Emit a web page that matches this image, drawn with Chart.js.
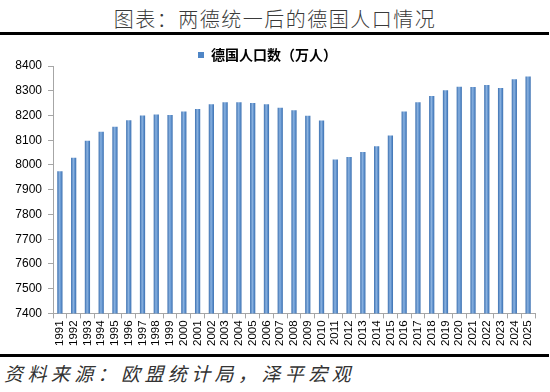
<!DOCTYPE html>
<html>
<head>
<meta charset="utf-8">
<script src="https://cdn.jsdelivr.net/npm/chart.js@4"></script>
<style>
html,body{margin:0;padding:0;background:#fff;width:550px;height:392px;overflow:hidden;}
#title{position:absolute;left:0;top:6px;width:550px;text-align:center;font-family:"Noto Sans CJK SC";font-weight:300;font-size:20px;letter-spacing:1.5px;color:#3a3a3a;line-height:26px;}
#topline{position:absolute;left:0;top:32px;width:549px;height:3px;background:#000;}
#wrap{position:absolute;left:0;top:36px;width:550px;height:318px;}
#botline{position:absolute;left:0;top:354px;width:549px;height:3px;background:#000;}
#source{position:absolute;left:4px;top:360px;font-family:"Noto Sans CJK SC";font-size:19px;font-style:italic;letter-spacing:4.4px;color:#333;line-height:26px;}
</style>
</head>
<body>
<div id="title">图表：两德统一后的德国人口情况</div>
<div id="topline"></div>
<div id="wrap"><canvas id="c" width="550" height="318"></canvas></div>
<div id="botline"></div>
<div id="source">资料来源：欧盟统计局，泽平宏观</div>
<script>
const years = ["1991","1992","1993","1994","1995","1996","1997","1998","1999","2000","2001","2002","2003","2004","2005","2006","2007","2008","2009","2010","2011","2012","2013","2014","2015","2016","2017","2018","2019","2020","2021","2022","2023","2024","2025"];
const population = [7975,8029,8098,8134,8154,8181,8200,8204,8202,8216,8226,8245,8253,8253,8250,8245,8231,8221,8199,8180,8022,8032,8052,8076,8119,8216,8253,8279,8302,8316,8315,8323,8311,8346,8358];
const seriesName = "德国人口数（万人）";
const yMin = 7400, yMax = 8400, yStep = 100;

const BAR_PCT = 0.38;
function barFill(ctx){
  const chart = ctx.chart;
  const xs = chart.scales.x;
  if (!xs || xs.width == null || ctx.dataIndex == null) return '#4F86C6';
  const cx = xs.getPixelForValue(ctx.dataIndex);
  const w = xs.width / years.length * BAR_PCT;
  const g = chart.ctx.createLinearGradient(cx - w/2, 0, cx + w/2, 0);
  g.addColorStop(0, '#3A6FB0');
  g.addColorStop(0.45, '#8CB3E0');
  g.addColorStop(0.6, '#6E9ED6');
  g.addColorStop(1, '#3A6FB0');
  return g;
}

const legendTighten = {
  id: 'legendTighten',
  afterInit(chart) {
    const lg = chart.legend;
    if (!lg) return;
    const f = lg.fit;
    lg.fit = function() { f.call(this); this.height = Math.max(0, this.height - 6); };
  }
};

new Chart(document.getElementById('c'), {
  type: 'bar',
  data: {
    labels: years,
    datasets: [{
      label: seriesName,
      data: population,
      backgroundColor: barFill,
      borderWidth: 0,
      barPercentage: BAR_PCT,
      categoryPercentage: 1
    }]
  },
  plugins: [legendTighten],
  options: {
    responsive: false,
    animation: false,
    layout: { padding: { left: 0, right: 15, top: 11, bottom: 6 } },
    plugins: {
      legend: {
        display: true,
        labels: {
          boxWidth: 6, boxHeight: 6,
          color: '#000',
          font: { family: '"Noto Sans CJK SC"', size: 14, weight: 'bold' },
          padding: 1,
          generateLabels: (chart) => [{text: seriesName, fillStyle: '#4F86C6', strokeStyle: '#4F86C6', lineWidth: 0, datasetIndex: 0}]
        }
      },
      tooltip: { enabled: false }
    },
    scales: {
      x: {
        grid: { display: true, drawOnChartArea: false, offset: true, tickLength: 5, color: '#A6A6A6' },
        border: { color: '#A6A6A6' },
        ticks: {
          minRotation: 90, maxRotation: 90, autoSkip: false, padding: 2,
          color: '#000',
          font: { family: '"Liberation Sans", Arial, sans-serif', size: 11.5 }
        }
      },
      y: {
        min: yMin, max: yMax,
        afterFit: (s) => { s.width = 53; },
        grid: { display: true, drawOnChartArea: false, tickLength: 5, color: '#A6A6A6' },
        border: { color: '#A6A6A6' },
        ticks: {
          stepSize: yStep, padding: 6,
          color: '#000',
          callback: (v) => String(v),
          font: { family: '"Liberation Sans", Arial, sans-serif', size: 12 }
        }
      }
    }
  }
});
</script>
</body>
</html>
